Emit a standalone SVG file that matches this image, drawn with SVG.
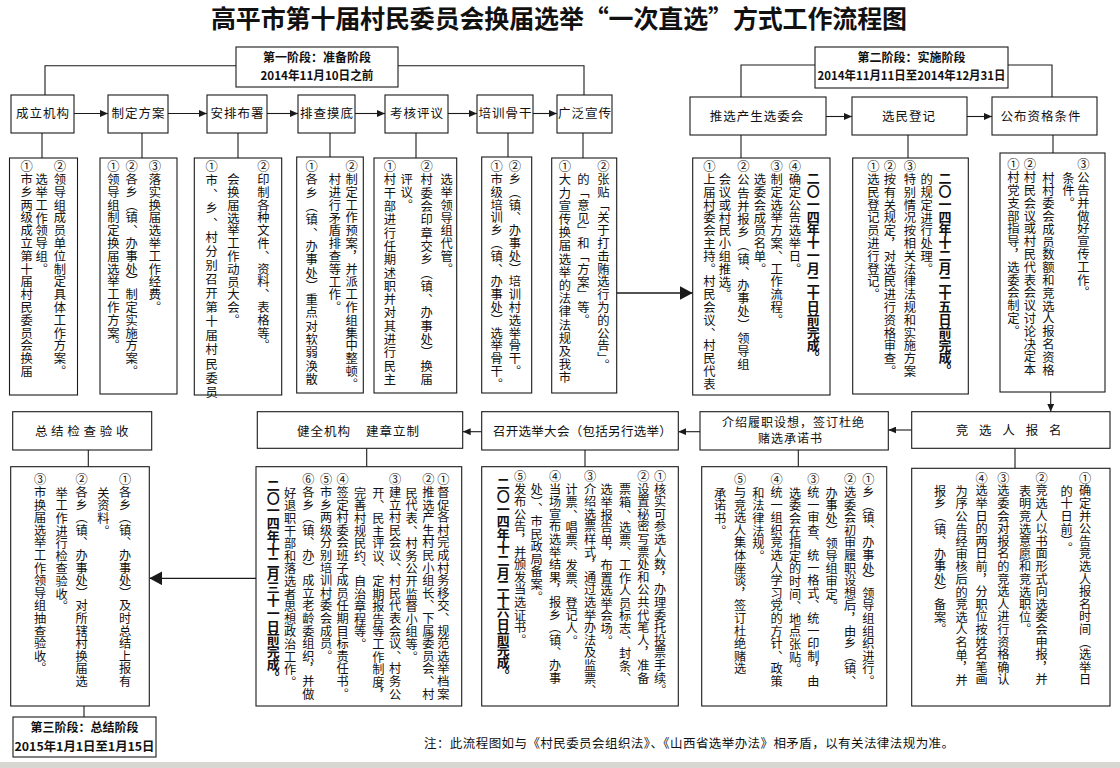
<svg xmlns="http://www.w3.org/2000/svg" width="1120" height="768" viewBox="0 0 1120 768">
<defs>
<style>
.bx{fill:#fff;stroke:#1a1a1a;stroke-width:1.1}
.ln{stroke:#1a1a1a;stroke-width:1.1;fill:none}
.ar{stroke:#1a1a1a;stroke-width:1.1;fill:none;marker-end:url(#a)}
.arL{stroke:#1a1a1a;stroke-width:1.3;fill:none;marker-end:url(#A)}
text{font-family:"Noto Sans CJK SC","Noto Sans",sans-serif;fill:#111}
.h{font-size:12.5px;text-anchor:middle;letter-spacing:1px}
.ph{font-size:12.5px;text-anchor:middle;font-weight:700}
.v{font-size:12.3px;letter-spacing:0.5px;writing-mode:vertical-rl}
.vb{font-size:12.2px;letter-spacing:0.4px;writing-mode:vertical-rl}
.vd{font-size:13px;letter-spacing:-0.2px;font-weight:700;writing-mode:vertical-rl}
.ti{font-size:25px;font-weight:700}
</style>
<marker id="a" viewBox="0 0 8 7" refX="8" refY="3.5" markerWidth="8" markerHeight="7" markerUnits="userSpaceOnUse" orient="auto"><path d="M0,0L8,3.5L0,7Z" fill="#1a1a1a"/></marker>
<marker id="A" viewBox="0 0 13 14" refX="13" refY="7" markerWidth="13" markerHeight="14" markerUnits="userSpaceOnUse" orient="auto"><path d="M0,0L13,7L0,14Z" fill="#1a1a1a"/></marker>
</defs>
<rect x="0" y="0" width="1120" height="768" fill="#fff"/>
<rect x="0" y="762" width="1120" height="6" fill="#d9d7d2"/>
<text class="ti" x="211" y="28" textLength="696" lengthAdjust="spacing">高平市第十届村民委员会换届选举“一次直选”方式工作流程图</text>

<g id="connectors">
<polyline class="ln" points="45,95 45,65.7 236,65.7"/>
<polyline class="ln" points="398,65.7 584,65.7 584,95"/>
<polyline class="ln" points="741,97 741,65 815,65"/>
<polyline class="ln" points="1008,65 1052,65 1052,97"/>
<line class="ar" x1="74" y1="113.5" x2="108" y2="113.5"/>
<line class="ar" x1="168" y1="113.5" x2="207" y2="113.5"/>
<line class="ar" x1="267" y1="113.5" x2="298" y2="113.5"/>
<line class="ar" x1="355" y1="113.5" x2="385" y2="113.5"/>
<line class="ar" x1="448" y1="113.5" x2="477" y2="113.5"/>
<line class="ar" x1="533" y1="113.5" x2="557" y2="113.5"/>
<line class="ar" x1="826" y1="116.5" x2="852" y2="116.5"/>
<line class="ar" x1="967" y1="116.5" x2="992" y2="116.5"/>
<line class="ln" x1="42" y1="133" x2="42" y2="158"/>
<line class="ln" x1="142" y1="133" x2="142" y2="158"/>
<line class="ln" x1="238" y1="133" x2="238" y2="158"/>
<line class="ln" x1="330" y1="133" x2="330" y2="157"/>
<line class="ln" x1="416" y1="133" x2="416" y2="158"/>
<line class="ln" x1="508" y1="133" x2="508" y2="157"/>
<line class="ln" x1="583" y1="133" x2="583" y2="158"/>
<line class="ln" x1="741" y1="135" x2="741" y2="158"/>
<line class="ln" x1="908" y1="135" x2="908" y2="158"/>
<line class="ln" x1="1053" y1="135" x2="1053" y2="153"/>
<line class="arL" x1="616.7" y1="293" x2="692.7" y2="293"/>
<line class="ar" x1="1050.7" y1="392" x2="1050.7" y2="411.7"/>
<line class="ar" x1="911.7" y1="430" x2="888.3" y2="430"/>
<line class="ar" x1="700" y1="431.7" x2="678.3" y2="431.7"/>
<line class="ar" x1="481.7" y1="431.7" x2="462.7" y2="431.7"/>
<line class="arL" x1="256" y1="578.3" x2="149.3" y2="578.3"/>
<line class="ln" x1="88.3" y1="450" x2="88.3" y2="466.7"/>
<line class="ln" x1="366.7" y1="448.3" x2="366.7" y2="466.7"/>
<line class="ln" x1="585" y1="450" x2="585" y2="466.7"/>
<line class="ln" x1="798.3" y1="450" x2="798.3" y2="466.7"/>
<line class="ln" x1="1015" y1="448.3" x2="1015" y2="468.3"/>
<line class="ln" x1="84" y1="706" x2="84" y2="717"/>
</g>

<g id="phase1">
<rect class="bx" x="236" y="47" width="162" height="40"/>
<text class="ph" x="317" y="61.5" style="font-size:12px">第一阶段：准备阶段</text>
<text class="ph" x="317" y="80" style="font-size:12px" textLength="113" lengthAdjust="spacingAndGlyphs">2014年11月10日之前</text>
</g>
<g id="phase2">
<rect class="bx" x="815" y="47" width="193" height="41"/>
<text class="ph" x="911.5" y="61.5" style="font-size:12px">第二阶段：实施阶段</text>
<text class="ph" x="911.5" y="80" style="font-size:12px" textLength="188" lengthAdjust="spacingAndGlyphs">2014年11月11日至2014年12月31日</text>
</g>
<g id="phase3">
<rect class="bx" x="13" y="717" width="143" height="40"/>
<text class="ph" x="84.5" y="731.5" style="font-size:12px">第三阶段：总结阶段</text>
<text class="ph" x="84.5" y="750.5" style="font-size:12px" textLength="140" lengthAdjust="spacingAndGlyphs">2015年1月1日至1月15日</text>
</g>

<g id="n-chengli"><rect class="bx" x="11" y="95" width="63" height="38"/><text class="h" x="43" y="118">成立机构</text></g>
<g id="n-zhiding"><rect class="bx" x="108" y="95" width="60" height="38"/><text class="h" x="138.5" y="118">制定方案</text></g>
<g id="n-anpai"><rect class="bx" x="207" y="95" width="60" height="38"/><text class="h" x="237.5" y="118">安排布署</text></g>
<g id="n-paicha"><rect class="bx" x="298" y="95" width="57" height="38"/><text class="h" x="327" y="118">排查摸底</text></g>
<g id="n-kaohe"><rect class="bx" x="385" y="95" width="63" height="38"/><text class="h" x="417" y="118">考核评议</text></g>
<g id="n-peixun"><rect class="bx" x="477" y="95" width="56" height="38"/><text class="h" x="505.5" y="118">培训骨干</text></g>
<g id="n-guangfan"><rect class="bx" x="557" y="95" width="55" height="38"/><text class="h" x="585" y="118">广泛宣传</text></g>
<g id="n-tuixuan"><rect class="bx" x="690" y="97" width="136" height="38"/><text class="h" x="757" y="121">推选产生选委会</text></g>
<g id="n-xuanmin"><rect class="bx" x="852" y="97" width="115" height="38"/><text class="h" x="909" y="121">选民登记</text></g>
<g id="n-gongbu"><rect class="bx" x="992" y="97" width="105" height="38"/><text class="h" x="1041" y="121">公布资格条件</text></g>

<g id="d-chengli"><rect class="bx" x="9.5" y="158" width="68" height="237"/>
<text class="v" x="26.7" y="160.3">①市乡两级成立第十届村民委员会换届</text>
<text class="v" x="41.7" y="173.3">选举工作领导组。</text>
<text class="v" x="60" y="160.3">②领导组成员单位制定具体工作方案。</text>
</g>
<g id="d-zhiding"><rect class="bx" x="100" y="158" width="77" height="236"/>
<text class="v" x="113.3" y="160.3">①领导组制定换届选举工作方案。</text>
<text class="v" x="131.7" y="160.3">②各乡（镇、办事处）制定实施方案。</text>
<text class="v" x="155" y="160.3">③落实换届选举工作经费。</text>
</g>
<g id="d-anpai"><rect class="bx" x="194.3" y="158" width="87.4" height="237"/>
<text class="v" x="211.7" y="160.3" style="letter-spacing:1.8px">①市、乡、村分别召开第十届村民委员</text>
<text class="v" x="233.3" y="173.3">会换届选举工作动员大会。</text>
<text class="v" x="263.3" y="160.3">②印制各种文件、资料、表格等。</text>
</g>
<g id="d-paicha"><rect class="bx" x="296.7" y="157" width="66.6" height="236"/>
<text class="v" x="311.7" y="160.3" style="letter-spacing:1px">①各乡（镇、办事处）重点对软弱涣散</text>
<text class="v" x="335" y="173.3">村进行矛盾排查等工作。</text>
<text class="v" x="351.7" y="160.3">②制定工作预案，并派工作组集中整顿。</text>
</g>
<g id="d-kaohe"><rect class="bx" x="374" y="158" width="82.7" height="235"/>
<text class="v" x="390" y="160.3" style="letter-spacing:1px">①村干部进行任期述职并对其进行民主</text>
<text class="v" x="406.7" y="173.3">评议。</text>
<text class="v" x="426.7" y="160.3" style="letter-spacing:1px">②村委会印章交乡（镇、办事处）换届</text>
<text class="v" x="446.7" y="173.3">选举领导组代管。</text>
</g>
<g id="d-peixun"><rect class="bx" x="481.7" y="157" width="50" height="236"/>
<text class="v" x="496.7" y="160.3">①市级培训乡（镇、办事处）选举骨干。</text>
<text class="v" x="515" y="160.3">②乡（镇、办事处）培训村选举骨干。</text>
</g>
<g id="d-guangfan"><rect class="bx" x="551.7" y="158" width="65" height="235"/>
<text class="v" x="565" y="160.3" style="letter-spacing:0.9px">①大力宣传换届选举的法律法规及我市</text>
<text class="v" x="583.3" y="173.3">的「意见」和「方案」等。</text>
<text class="v" x="603.3" y="160.3">②张贴「关于打击贿选行为的公告」。</text>
</g>
<g id="d-tuixuan"><rect class="bx" x="692.7" y="158" width="137.3" height="237"/>
<text class="v" x="709.3" y="160.3">①上届村委会主持。村民会议、村民代表</text>
<text class="v" x="725" y="173.3">会议或村民小组推选。</text>
<text class="v" x="743.3" y="160.3" style="letter-spacing:0.9px">②公告并报乡（镇、办事处）领导组</text>
<text class="v" x="760" y="173.3">选委会成员名单。</text>
<text class="v" x="776.7" y="160.3">③制定选举方案、工作流程。</text>
<text class="v" x="795" y="160.3">④确定公告选举日。</text>
<text class="vd" x="813.3" y="171.8">二〇一四年十一月二十日前完成。</text>
</g>
<g id="d-xuanmin"><rect class="bx" x="852.7" y="158" width="115.6" height="236"/>
<text class="v" x="873.3" y="160.3">①选民登记员进行登记。</text>
<text class="v" x="890" y="160.3">②按有关规定，对选民进行资格审查。</text>
<text class="v" x="910" y="160.3">③特别情况按相关法律法规和实施方案</text>
<text class="v" x="926.7" y="173.3">的规定进行处理。</text>
<text class="vd" x="945" y="171.8">二〇一四年十二月二十五日前完成。</text>
</g>
<g id="d-gongbu"><rect class="bx" x="1000" y="153" width="105" height="239"/>
<text class="v" x="1013.3" y="158.6">①村党支部指导，选委会制定。</text>
<text class="v" x="1030" y="158.6">②村民会议或村民代表会议讨论决定本</text>
<text class="v" x="1048.3" y="171.8">村村委会成员数额和竞选人报名资格</text>
<text class="v" x="1068.3" y="171.8">条件。</text>
<text class="v" x="1083.3" y="158.6">③公告并做好宣传工作。</text>
</g>

<g id="n-zongjie"><rect class="bx" x="12.7" y="411.7" width="139" height="38.3"/><text class="h" x="83.5" y="436" style="letter-spacing:3.7px">总结检查验收</text></g>
<g id="n-jianquan"><rect class="bx" x="257.3" y="411.7" width="205.4" height="36.6"/><text class="h" x="324" y="436">健全机构</text><text class="h" x="393" y="436">建章立制</text></g>
<g id="n-zhaokai"><rect class="bx" x="481.7" y="411.7" width="196.6" height="38.3"/><text class="h" x="582.5" y="436" style="letter-spacing:0.3px">召开选举大会（包括另行选举）</text></g>
<g id="n-jieshao"><rect class="bx" x="700" y="411.7" width="188.3" height="38.3"/><text class="h" x="793.5" y="426.5" style="font-size:12px">介绍履职设想，签订杜绝</text><text class="h" x="790.5" y="443" style="font-size:12px">赌选承诺书</text></g>
<g id="n-jingxuan"><rect class="bx" x="911.7" y="411.7" width="198.3" height="36.6"/><text class="h" x="1014" y="434.5" style="letter-spacing:10.8px">竞选人报名</text></g>

<g id="d-zongjie"><rect class="bx" x="10.7" y="466.7" width="138.6" height="239.3"/>
<text class="vb" x="125" y="473.6">①各乡（镇、办事处）及时总结上报有</text>
<text class="vb" x="103.3" y="487">关资料。</text>
<text class="vb" x="81.7" y="473.6">②各乡（镇、办事处）对所辖村换届选</text>
<text class="vb" x="61.7" y="487">举工作进行检查验收。</text>
<text class="vb" x="40" y="473.6">③市换届选举工作领导组抽查验收。</text>
</g>
<g id="d-jianquan"><rect class="bx" x="256" y="466.7" width="205.7" height="239.3"/>
<text class="vb" x="443.3" y="473.6">①督促各村完成村务移交、规范选举档案</text>
<text class="vb" x="428.3" y="473.6">②推选产生村民小组长、下属委员会、村</text>
<text class="vb" x="411.7" y="487">民代表、村务公开监督小组等。</text>
<text class="vb" x="395" y="473.6">③建立村民会议、村民代表会议、村务公</text>
<text class="vb" x="378.3" y="487">开、民主评议、定期报告等工作制度，</text>
<text class="vb" x="360" y="487">完善村规民约、自治章程等。</text>
<text class="vb" x="342.7" y="473.6">④签定村委会班子成员任期目标责任书。</text>
<text class="vb" x="326" y="473.6">⑤市乡两级分别培训村委会成员。</text>
<text class="vb" x="308.3" y="473.6">⑥各乡（镇、办）成立老龄委组织，并做</text>
<text class="vb" x="290" y="487">好退职干部和落选者思想政治工作。</text>
<text class="vd" x="273.3" y="478.3">二〇一四年十二月三十一日前完成。</text>
</g>
<g id="d-zhaokai"><rect class="bx" x="481.7" y="466.7" width="196.6" height="239.3"/>
<text class="vb" x="660" y="470.3">①核实可参选人数，办理委托投票手续。</text>
<text class="vb" x="643.3" y="470.3">②设置秘密写票处和公共代笔人，准备</text>
<text class="vb" x="625" y="483.6">票箱、选票、工作人员标志、封条、</text>
<text class="vb" x="606.7" y="483.6">选举报告单，布置选举会场。</text>
<text class="vb" x="590" y="470.3">③介绍选票样式，通过选举办法及监票、</text>
<text class="vb" x="571.7" y="483.6">计票、唱票、发票、登记人。</text>
<text class="vb" x="555" y="470.3">④当场宣布选举结果，报乡（镇、办事</text>
<text class="vb" x="536.7" y="483.6">处）、市民政局备案。</text>
<text class="vb" x="520" y="470.3">⑤发布公告，并颁发当选证书。</text>
<text class="vd" x="503.3" y="476.5">二〇一四年十二月二十六日前完成。</text>
</g>
<g id="d-jieshao"><rect class="bx" x="701.7" y="466.7" width="185" height="239.3"/>
<text class="vb" x="868.3" y="473.6">①乡（镇、办事处）领导组组织进行。</text>
<text class="vb" x="850" y="473.6">②选委会初审履职设想后，由乡（镇、</text>
<text class="vb" x="831.7" y="487">办事处）领导组审定。</text>
<text class="vb" x="813.3" y="473.6">③统一审查、统一格式、统一印制，由</text>
<text class="vb" x="795" y="487">选委会在指定的时间、地点张贴。</text>
<text class="vb" x="776.7" y="473.6">④统一组织竞选人学习党的方针、政策</text>
<text class="vb" x="758.3" y="487">和法律法规。</text>
<text class="vb" x="740" y="473.6">⑤与竞选人集体座谈，签订杜绝赌选</text>
<text class="vb" x="720" y="487">承诺书。</text>
</g>
<g id="d-jingxuan"><rect class="bx" x="911.7" y="468.3" width="198.3" height="237.7"/>
<text class="vb" x="1085" y="472">①确定并公告竞选人报名时间（选举日</text>
<text class="vb" x="1066.7" y="485">的十日前）。</text>
<text class="vb" x="1041.7" y="472">②竞选人以书面形式向选委会申报，并</text>
<text class="vb" x="1025" y="485">表明竞选意愿和竞选职位。</text>
<text class="vb" x="1003.3" y="472">③选委会对报名的竞选人进行资格确认</text>
<text class="vb" x="981.7" y="472">④选举日的两日前，分职位按姓名笔画</text>
<text class="vb" x="961.7" y="485">为序公告经审核后的竞选人名单，并</text>
<text class="vb" x="940" y="485">报乡（镇、办事处）备案。</text>
</g>

<text x="424" y="747.5" style="font-size:12.5px" textLength="530" lengthAdjust="spacing">注：此流程图如与《村民委员会组织法》、《山西省选举办法》相矛盾，以有关法律法规为准。</text>
</svg>
